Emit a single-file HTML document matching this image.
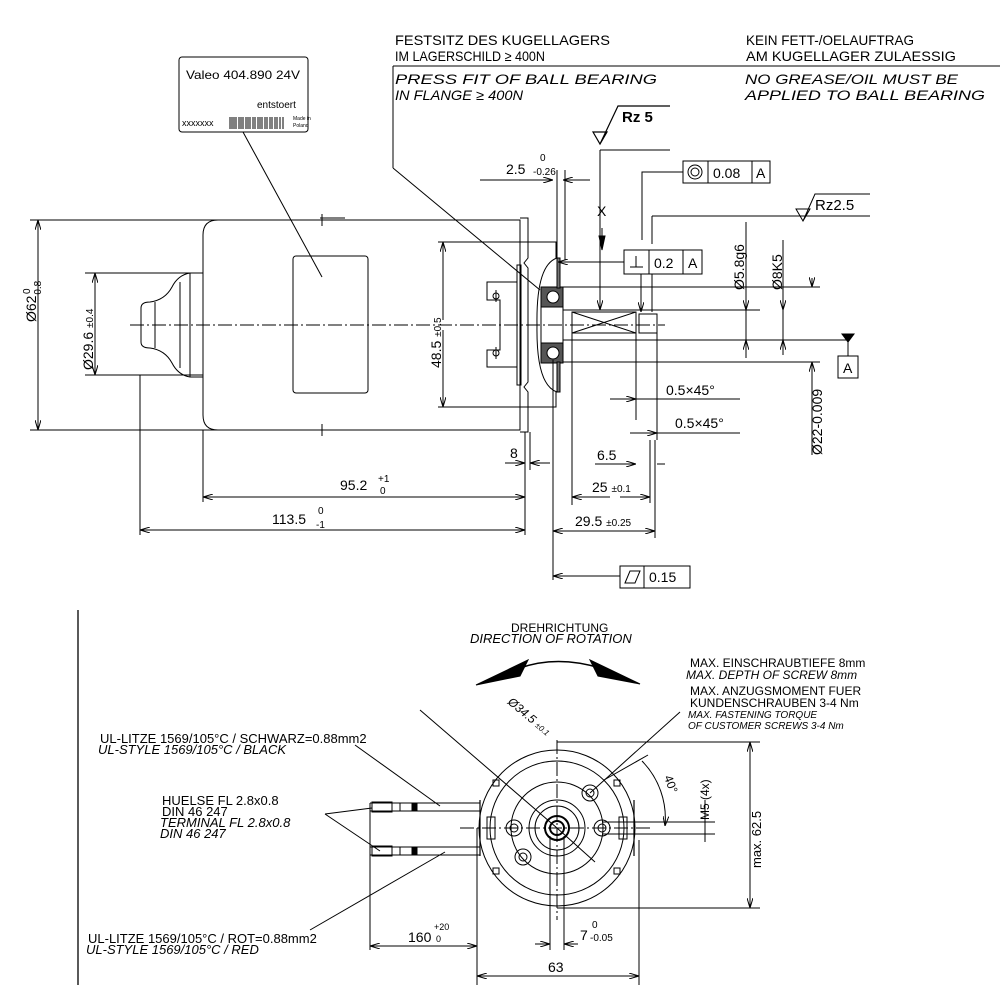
<!DOCTYPE html>
<html><head><meta charset="utf-8"><style>
html,body{margin:0;padding:0;background:#fff}
svg{display:block}
text{font-family:"Liberation Sans Narrow","Liberation Sans",sans-serif;fill:#000}
.t{font-size:14px}
.i{font-style:italic}
</style></head><body>
<svg width="1000" height="1000" viewBox="0 0 1000 1000" xmlns="http://www.w3.org/2000/svg" stroke="#000" fill="none" stroke-width="1">
<defs>
<marker id="a" markerWidth="10" markerHeight="6" refX="10" refY="3" orient="auto-start-reverse" markerUnits="userSpaceOnUse"><path d="M0,0 L10,3 L0,6" fill="none" stroke="#000"/></marker>
</defs>
<g stroke="none">
<text x="395" y="45" class="t" textLength="215" lengthAdjust="spacingAndGlyphs">FESTSITZ DES KUGELLAGERS</text>
<text x="395" y="61" class="t" textLength="150" lengthAdjust="spacingAndGlyphs">IM LAGERSCHILD ≥ 400N</text>
<text x="746" y="45" class="t" textLength="168" lengthAdjust="spacingAndGlyphs">KEIN FETT-/OELAUFTRAG</text>
<text x="746" y="61" class="t" textLength="210" lengthAdjust="spacingAndGlyphs">AM KUGELLAGER ZULAESSIG</text>
<text x="395" y="84" class="t i" textLength="262" lengthAdjust="spacingAndGlyphs">PRESS FIT OF BALL BEARING</text>
<text x="395" y="100" class="t i" textLength="128" lengthAdjust="spacingAndGlyphs">IN FLANGE ≥ 400N</text>
<text x="745" y="84" class="t i" textLength="213" lengthAdjust="spacingAndGlyphs">NO GREASE/OIL MUST BE</text>
<text x="745" y="100" class="t i" textLength="240" lengthAdjust="spacingAndGlyphs">APPLIED TO BALL BEARING</text>
</g>
<line x1="393" y1="66" x2="1000" y2="66"/>
<line x1="393" y1="66" x2="393" y2="168"/>
<line x1="393" y1="168" x2="540" y2="290"/>
<rect x="179" y="57" width="129" height="75" rx="3"/>
<g stroke="none">
<text x="186" y="79" font-size="12" textLength="114" lengthAdjust="spacingAndGlyphs">Valeo 404.890 24V</text>
<text x="257" y="108" font-size="10">entstoert</text>
<text x="182" y="126" font-size="9">xxxxxxx</text>
<text x="293" y="120" font-size="5">Made in</text>
<text x="293" y="127" font-size="5">Poland</text>
</g>
<path d="M230,117v12M232,117v12M234,117v12M236,117v12M239,117v12M241,117v12M243,117v12M246,117v12M248,117v12M250,117v12M253,117v12M255,117v12M258,117v12M260,117v12M262,117v12M265,117v12M267,117v12M270,117v12M272,117v12M275,117v12M277,117v12M280,117v12M283,117v12"/>
<line x1="243" y1="132" x2="322" y2="277"/>
<path d="M218,220 H520 V430 H218 Q203,430 203,415 V235 Q203,220 218,220 Z"/>
<rect x="293" y="256" width="75" height="137" rx="3"/>
<line x1="322" y1="214" x2="322" y2="226"/><path d="M320,218h25" />
<line x1="322" y1="424" x2="322" y2="436"/><path d="M320,430h25"/>
<path d="M203,273 H190 Q178,275 172,287 Q165,300 150,302 Q141,302 141,308 V342 Q141,348 150,348 Q165,350 172,363 Q178,375 190,377 H203"/>
<line x1="190" y1="273" x2="190" y2="377"/><line x1="180" y1="282" x2="180" y2="368"/><line x1="155" y1="302" x2="155" y2="348"/>
<path d="M520,218 H528 V258 L524,263 L528,268 V382 L524,387 L528,392 V432 H520"/>
<path d="M528,242 H556 V258 M528,407 H556 V392"/>
<rect x="517" y="265" width="4" height="120"/>
<path d="M517,282 H487 V300 H500 V350 H487 V367 H517"/>
<circle cx="496" cy="296" r="3"/><circle cx="496" cy="353" r="3"/>
<line x1="496" y1="290" x2="496" y2="302"/><line x1="496" y1="347" x2="496" y2="359"/>
<path d="M557,258 Q536,265 537,325 Q536,385 557,392" />
<rect x="541" y="287" width="22" height="20" fill="#555"/>
<rect x="541" y="343" width="22" height="20" fill="#555"/>
<circle cx="553" cy="297" r="6" fill="#fff"/><circle cx="553" cy="353" r="6" fill="#fff"/>
<rect x="557" y="258" width="3" height="30" fill="#777"/><rect x="557" y="362" width="3" height="30" fill="#777"/>
<rect x="541" y="307" width="22" height="36"/>
<rect x="572" y="312" width="64" height="21"/>
<path d="M572,312 L636,333 M572,333 L636,312"/>
<rect x="639" y="314" width="18" height="19"/>
<line x1="636" y1="312" x2="636" y2="420"/><line x1="657" y1="314" x2="657" y2="440"/>
<line x1="553" y1="360" x2="553" y2="580"/>
<line x1="572" y1="333" x2="572" y2="505"/>
<line x1="130" y1="325" x2="665" y2="325" stroke-dasharray="14,3,2,3"/>
<path d="M563,287 H820 M563,310 H760 M563,340 H850 M563,362 H820"/>
<path d="M600,150 H670 M600,150 V310" marker-end="url(#a)"/>
<path d="M593,132 l7,12 l7,-12z M600,144 L618,106 H670" stroke-width="1.2"/>
<g stroke="none"><text x="622" y="122" font-size="15" font-weight="bold">Rz 5</text></g>
<path d="M602,228 v20"/><path d="M599,236 h6 l-3,14z" fill="#000"/>
<g stroke="none"><text x="597" y="216" class="t">X</text></g>
<rect x="683" y="161" width="87" height="22"/><line x1="708" y1="161" x2="708" y2="183"/><line x1="752" y1="161" x2="752" y2="183"/>
<circle cx="695" cy="172" r="7"/><circle cx="695" cy="172" r="4"/>
<g stroke="none"><text x="713" y="178" class="t">0.08</text><text x="756" y="178" class="t">A</text></g>
<path d="M683,172 H642 V240"/>
<rect x="624" y="250" width="78" height="24"/><line x1="649" y1="250" x2="649" y2="274"/><line x1="683" y1="250" x2="683" y2="274"/>
<path d="M630,267 H643 M636,256 V267"/>
<g stroke="none"><text x="654" y="268" class="t">0.2</text><text x="688" y="268" class="t">A</text></g>
<path d="M624,262 H558" marker-end="url(#a)"/>
<path d="M641,274 V312" marker-end="url(#a)"/><path d="M652,274 V312" />
<path d="M652,216 V244 M652,216 H870"/>
<path d="M796,209 l7,12 l7,-12z M803,221 L815,194 H870"/>
<g stroke="none"><text x="815" y="210" font-size="15">Rz2.5</text></g>
<path d="M746,292 V310" marker-end="url(#a)"/><path d="M746,358 V340" marker-end="url(#a)"/>
<path d="M783,300 V310" marker-end="url(#a)"/><path d="M783,355 V340" marker-end="url(#a)"/>
<path d="M812,278 V287" marker-end="url(#a)"/><path d="M812,380 V362" marker-end="url(#a)"/><line x1="812" y1="362" x2="812" y2="455"/>
<line x1="746" y1="222" x2="746" y2="358"/><line x1="783" y1="240" x2="783" y2="355"/>
<g stroke="none">
<text transform="translate(744,290) rotate(-90)" class="t">Ø5.8g6</text>
<text transform="translate(782,290) rotate(-90)" class="t">Ø8K5</text>
<text transform="translate(822,455) rotate(-90)" class="t">Ø22-0.009</text>
</g>
<path d="M842,334 h12 l-6,8z" fill="#000"/><line x1="848" y1="342" x2="848" y2="356"/>
<rect x="838" y="356" width="20" height="22"/><g stroke="none"><text x="843" y="373" class="t">A</text></g>
<path d="M610,399 H636" marker-end="url(#a)"/><path d="M636,399 H740"/>
<path d="M630,433 H657" marker-end="url(#a)"/><path d="M657,433 H740"/>
<g stroke="none"><text x="666" y="395" class="t">0.5×45°</text><text x="675" y="428" class="t">0.5×45°</text></g>
<path d="M480,180 H553" marker-end="url(#a)"/><path d="M590,180 H563" marker-end="url(#a)"/>
<line x1="557" y1="170" x2="557" y2="260"/><line x1="565" y1="170" x2="565" y2="260"/>
<g stroke="none"><text x="506" y="174" class="t">2.5</text><text x="540" y="161" font-size="10">0</text><text x="533" y="175" font-size="10">-0.26</text></g>
<path d="M438,242 H530 M438,407 H530"/>
<path d="M443,320 V242" marker-end="url(#a)"/><path d="M443,330 V407" marker-end="url(#a)"/>
<g stroke="none"><text transform="translate(441,368) rotate(-90)" class="t">48.5 <tspan font-size="10">±0.5</tspan></text></g>
<path d="M85,273 H203 M85,375 H203"/>
<path d="M95,300 V273" marker-end="url(#a)"/><path d="M95,300 V375" marker-end="url(#a)"/>
<g stroke="none"><text transform="translate(93,370) rotate(-90)" class="t">Ø29.6 <tspan font-size="10">±0.4</tspan></text></g>
<path d="M30,220 H218 M30,430 H218"/>
<path d="M38,320 V220" marker-end="url(#a)"/><path d="M38,320 V430" marker-end="url(#a)"/>
<g stroke="none"><text transform="translate(36,322) rotate(-90)" class="t">Ø62</text><text transform="translate(30,294) rotate(-90)" font-size="10">0</text><text transform="translate(41,298) rotate(-90)" font-size="10">-0.8</text></g>
<line x1="203" y1="430" x2="203" y2="502"/><line x1="140" y1="375" x2="140" y2="535"/><line x1="525" y1="432" x2="525" y2="535"/>
<path d="M360,497 H203" marker-end="url(#a)"/><path d="M360,497 H525" marker-end="url(#a)"/>
<path d="M330,530 H140" marker-end="url(#a)"/><path d="M330,530 H525" marker-end="url(#a)"/>
<g stroke="none">
<text x="340" y="490" class="t">95.2</text><text x="378" y="482" font-size="10">+1</text><text x="380" y="494" font-size="10">0</text>
<text x="272" y="524" class="t">113.5</text><text x="318" y="514" font-size="10">0</text><text x="316" y="528" font-size="10">-1</text>
</g>
<path d="M505,463 H525" marker-end="url(#a)"/><path d="M550,463 H530" marker-end="url(#a)"/><line x1="530" y1="432" x2="530" y2="470"/>
<g stroke="none"><text x="510" y="458" class="t">8</text></g>
<path d="M595,464 H636" marker-end="url(#a)"/><path d="M665,464 H657"/>
<g stroke="none"><text x="597" y="460" class="t">6.5</text></g>
<path d="M610,497 H572" marker-end="url(#a)"/><path d="M620,497 H650" marker-end="url(#a)"/><line x1="650" y1="440" x2="650" y2="503"/>
<g stroke="none"><text x="592" y="492" class="t">25 <tspan font-size="10">±0.1</tspan></text></g>
<path d="M600,531 H553" marker-end="url(#a)"/><path d="M600,531 H655" marker-end="url(#a)"/><line x1="655" y1="440" x2="655" y2="538"/>
<g stroke="none"><text x="575" y="526" class="t">29.5 <tspan font-size="10">±0.25</tspan></text></g>
<path d="M620,576 H553" marker-end="url(#a)"/>
<rect x="620" y="566" width="70" height="22"/><line x1="644" y1="566" x2="644" y2="588"/>
<path d="M625,583 l5,-12 h10 l-5,12z"/>
<g stroke="none"><text x="649" y="582" class="t">0.15</text></g>
<line x1="78" y1="610" x2="78" y2="985" stroke-width="1.3"/>
<g stroke="none">
<text x="511" y="632" font-size="12">DREHRICHTUNG</text>
<text x="470" y="643" font-size="13" class="i">DIRECTION OF ROTATION</text>
<text x="690" y="667" font-size="12">MAX. EINSCHRAUBTIEFE 8mm</text>
<text x="686" y="679" font-size="12" class="i">MAX. DEPTH OF SCREW 8mm</text>
<text x="690" y="695" font-size="12">MAX. ANZUGSMOMENT FUER</text>
<text x="690" y="707" font-size="12">KUNDENSCHRAUBEN 3-4 Nm</text>
<text x="688" y="718" font-size="10" class="i">MAX. FASTENING TORQUE</text>
<text x="688" y="729" font-size="10" class="i">OF CUSTOMER SCREWS 3-4 Nm</text>
<text x="100" y="743" font-size="13">UL-LITZE 1569/105°C / SCHWARZ=0.88mm2</text>
<text x="98" y="754" font-size="13" class="i">UL-STYLE 1569/105°C / BLACK</text>
<text x="162" y="805" font-size="13">HUELSE FL 2.8x0.8</text>
<text x="162" y="816" font-size="13">DIN 46 247</text>
<text x="160" y="827" font-size="13" class="i">TERMINAL FL 2.8x0.8</text>
<text x="160" y="838" font-size="13" class="i">DIN 46 247</text>
<text x="88" y="943" font-size="13">UL-LITZE 1569/105°C / ROT=0.88mm2</text>
<text x="86" y="954" font-size="13" class="i">UL-STYLE 1569/105°C / RED</text>
<text x="408" y="942" class="t">160</text><text x="434" y="930" font-size="9">+20</text><text x="436" y="942" font-size="9">0</text>
<text x="580" y="940" class="t">7</text><text x="592" y="928" font-size="10">0</text><text x="590" y="941" font-size="10">-0.05</text>
<text x="548" y="972" class="t">63</text>
<text transform="translate(761,868) rotate(-90)" font-size="13">max. 62.5</text>
<text transform="translate(709,820) rotate(-90)" font-size="12">M5 (4x)</text>
<text transform="translate(664,777) rotate(70)" font-size="12">40°</text>
<text transform="translate(507,703) rotate(40)" font-size="12" class="i">Ø34.5 <tspan font-size="8">±0.1</tspan></text>
</g>
<path d="M520,668 Q557,655 600,668" stroke-width="1.5"/>
<path d="M476,685 L528,660 L520,676 Z" fill="#000"/>
<path d="M640,684 L590,660 L598,676 Z" fill="#000"/>
<circle cx="557" cy="828" r="78"/>
<circle cx="557" cy="828" r="67"/>
<circle cx="557" cy="828" r="46"/>
<circle cx="557" cy="828" r="28"/>
<circle cx="557" cy="828" r="22"/>
<circle cx="557" cy="828" r="12" stroke-width="2"/>
<circle cx="557" cy="828" r="7" stroke-width="2"/>
<path d="M480,800 v56 M634,800 v56" stroke-width="1.2"/>
<rect x="487" y="817" width="8" height="22"/><rect x="619" y="817" width="8" height="22"/>
<circle cx="514" cy="828" r="8"/><circle cx="514" cy="828" r="4"/>
<circle cx="602" cy="828" r="8"/><circle cx="602" cy="828" r="4"/>
<circle cx="590" cy="793" r="8"/><circle cx="590" cy="793" r="4"/>
<circle cx="523" cy="857" r="8"/><circle cx="523" cy="857" r="4"/>
<rect x="493" y="780" width="6" height="6"/><rect x="614" y="780" width="6" height="6"/><rect x="493" y="868" width="6" height="6"/><rect x="614" y="868" width="6" height="6"/>
<line x1="557" y1="740" x2="557" y2="920" stroke-dasharray="14,3,2,3"/>
<line x1="460" y1="828" x2="650" y2="828" stroke-dasharray="14,3,2,3"/>
<line x1="557" y1="828" x2="595" y2="862"/>
<line x1="557" y1="742" x2="760" y2="742"/><line x1="557" y1="908" x2="760" y2="908"/>
<path d="M750,825 V742" marker-end="url(#a)"/><path d="M750,825 V908" marker-end="url(#a)"/>
<line x1="602" y1="822" x2="715" y2="822"/><line x1="602" y1="834" x2="715" y2="834"/>
<line x1="705" y1="800" x2="705" y2="842"/>
<path d="M642,761 A82,82 0 0 1 665,826" marker-end="url(#a)"/>
<line x1="604" y1="780" x2="648" y2="755"/>
<line x1="590" y1="793" x2="680" y2="712"/>
<line x1="557" y1="828" x2="420" y2="710"/>
<path d="M370,803 H480 M370,811 H480 M370,847 H480 M370,855 H480"/>
<rect x="372" y="802" width="20" height="10"/><rect x="400" y="803" width="12" height="8"/><rect x="372" y="846" width="20" height="10"/><rect x="400" y="847" width="12" height="8"/>
<rect x="412" y="803" width="5" height="8" fill="#000"/><rect x="412" y="847" width="5" height="8" fill="#000"/>
<path d="M325,814 L372,808 M325,814 L380,851"/>
<line x1="355" y1="745" x2="440" y2="806"/>
<line x1="310" y1="930" x2="445" y2="852"/>
<line x1="370" y1="803" x2="370" y2="950"/><line x1="477" y1="828" x2="477" y2="985"/>
<path d="M420,946 H370" marker-end="url(#a)"/><path d="M420,946 H477" marker-end="url(#a)"/>
<line x1="550" y1="836" x2="550" y2="950"/><line x1="564" y1="836" x2="564" y2="950"/>
<path d="M535,944 H550" marker-end="url(#a)"/><path d="M578,944 H564" marker-end="url(#a)"/>
<line x1="639" y1="840" x2="639" y2="985"/>
<path d="M560,976 H477" marker-end="url(#a)"/><path d="M560,976 H639" marker-end="url(#a)"/>
</svg>
</body></html>
